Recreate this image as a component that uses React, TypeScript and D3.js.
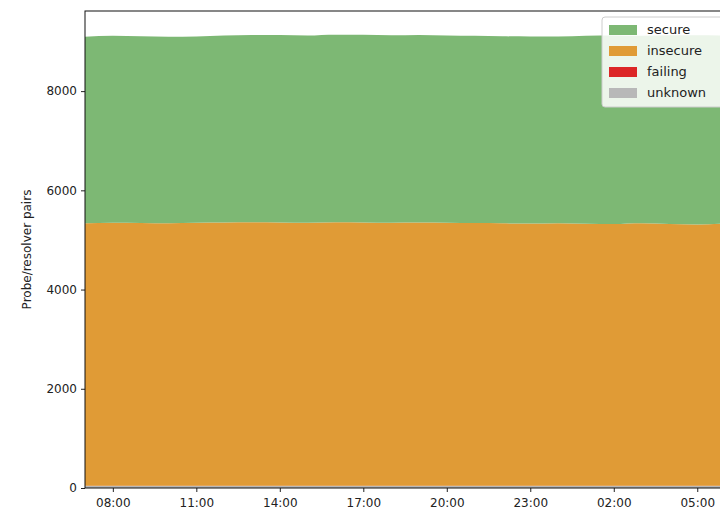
import { useEffect, useRef } from 'react';
import * as d3 from 'd3';

// hourly samples starting 07:00
const hours = d3.range(0, 25).map((h) => new Date(2021, 0, 1, 7 + h));
const xTickHours = [8, 11, 14, 17, 20, 23, 26, 29];
const unknown = [40, 40, 40, 40, 40, 40, 40, 40, 40, 40, 40, 40, 40, 40, 40, 40, 40, 40, 40, 40, 40, 40, 40, 40, 40];
const failing = [5, 5, 5, 5, 5, 5, 5, 5, 5, 5, 5, 5, 5, 5, 5, 5, 5, 5, 5, 5, 5, 5, 5, 5, 5];
const insecure = [5290, 5300, 5295, 5290, 5300, 5305, 5310, 5305, 5300, 5310, 5305, 5300, 5305, 5300, 5295, 5290, 5285, 5290, 5280, 5275, 5290, 5275, 5265, 5285, 5290];
const secure = [3760, 3770, 3765, 3760, 3755, 3770, 3775, 3780, 3775, 3780, 3785, 3780, 3780, 3775, 3775, 3770, 3770, 3765, 3790, 3800, 3780, 3805, 3815, 3790, 3780];
const seriesNames = ['unknown', 'failing', 'insecure', 'secure'];
const colors: Record<string, string> = {
  secure: '#7db874',
  insecure: '#e09b36',
  failing: '#dc2626',
  unknown: '#b8b8b8',
};
const legendOrder = ['secure', 'insecure', 'failing', 'unknown'];
const yTicks = [0, 2000, 4000, 6000, 8000];

export default function App() {
  const svgRef = useRef<SVGSVGElement>(null);

  useEffect(() => {
    if (!svgRef.current) return;
    const svg = d3.select(svgRef.current);
    svg.selectAll('*').remove();

    const left = 85, top = 11, bottom = 488, right = 739;
    const x = d3.scaleTime()
      .domain([hours[0], new Date(2021, 0, 2, 6, 30)])
      .range([left, right]);
    const y = d3.scaleLinear().domain([0, 9615]).range([bottom, top]);

    const rows = hours.map((t, i) => ({
      t, unknown: unknown[i], failing: failing[i], insecure: insecure[i], secure: secure[i],
    }));
    const stack = d3.stack<any>().keys(seriesNames)(rows);
    const area = d3.area<any>()
      .x((d) => x(d.data.t))
      .y0((d) => y(d[0]))
      .y1((d) => y(d[1]))
      .curve(d3.curveMonotoneX);

    svg.append('g').selectAll('path').data(stack).enter().append('path')
      .attr('d', area as any)
      .attr('fill', (d) => colors[d.key]);

    const font = 'DejaVu Sans, sans-serif';
    const yAxis = svg.append('g').attr('transform', `translate(${left},0)`)
      .call(d3.axisLeft(y).tickValues(yTicks).tickSize(4).tickPadding(4).tickFormat(d3.format('d')));
    const xAxis = svg.append('g').attr('transform', `translate(0,${bottom})`)
      .call(d3.axisBottom(x)
        .tickValues(xTickHours.map((h) => new Date(2021, 0, 1, h)))
        .tickSize(4).tickPadding(6).tickFormat(d3.timeFormat('%H:%M') as any));
    [yAxis, xAxis].forEach((a) => {
      a.select('.domain').remove();
      a.selectAll('text').style('font-family', font).style('font-size', '12px').attr('fill', '#222');
      a.selectAll('line').attr('stroke', '#222');
    });

    // frame
    svg.append('rect').attr('x', left).attr('y', top).attr('width', right - left).attr('height', bottom - top)
      .attr('fill', 'none').attr('stroke', '#111').attr('stroke-width', 1);

    svg.append('text')
      .attr('transform', `translate(31,${(top + bottom) / 2}) rotate(-90)`)
      .attr('text-anchor', 'middle')
      .style('font-family', font).style('font-size', '12px').attr('fill', '#222')
      .text('Probe/resolver pairs');

    const lg = svg.append('g').attr('transform', 'translate(602,17)');
    lg.append('rect').attr('width', 130).attr('height', 90).attr('rx', 3)
      .attr('fill', 'white').attr('fill-opacity', 0.85).attr('stroke', '#ccc');
    legendOrder.forEach((k, i) => {
      lg.append('rect').attr('x', 7).attr('y', 8 + i * 21).attr('width', 28).attr('height', 10).attr('fill', colors[k]);
      lg.append('text').attr('x', 45).attr('y', 17 + i * 21)
        .style('font-family', font).style('font-size', '13px').attr('fill', '#222').text(k);
    });
  }, []);

  return <svg ref={svgRef} width={720} height={513} style={{ display: 'block', position: 'absolute', left: 0, top: 0 }} />;
}
